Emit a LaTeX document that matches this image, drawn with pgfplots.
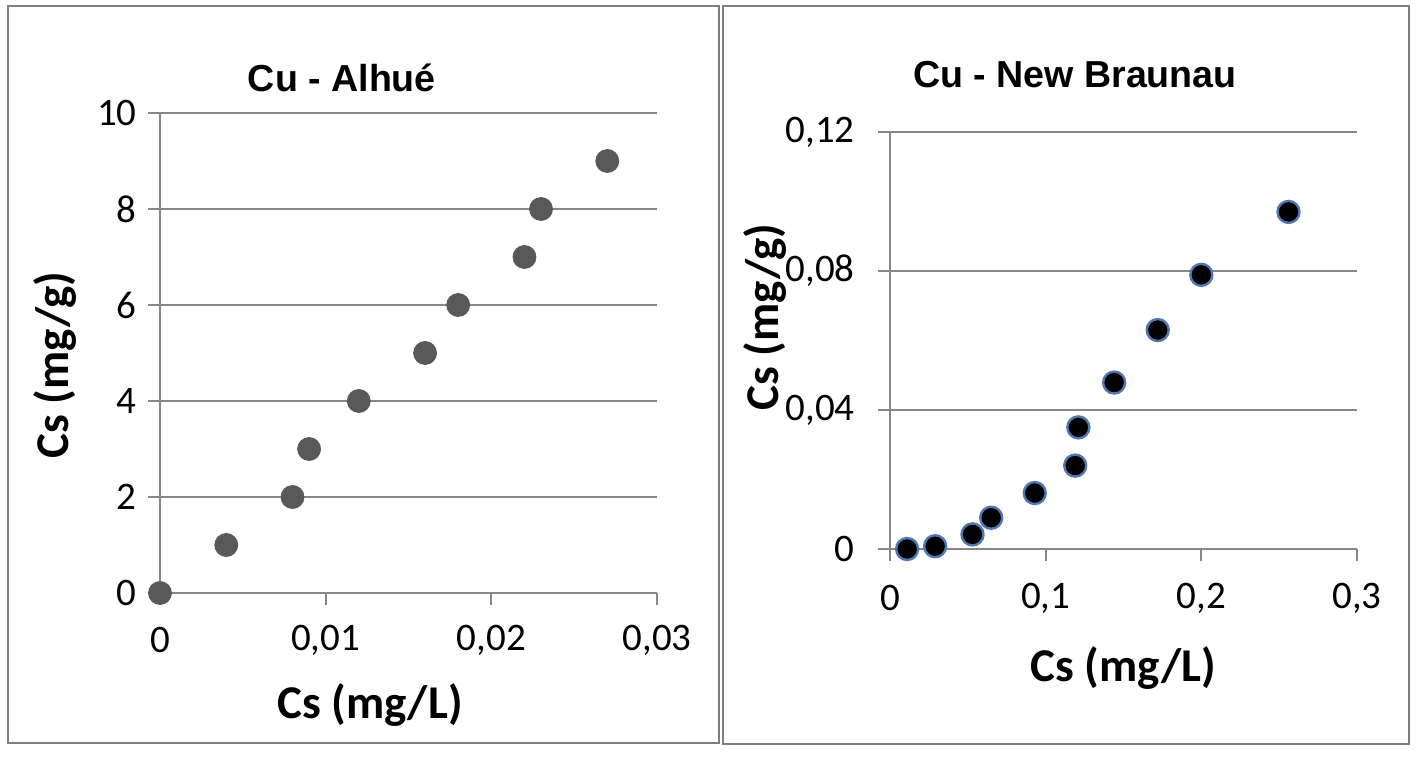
\documentclass[border=0pt]{standalone}
\usepackage{fontspec}
\setmainfont{Carlito}
\newfontfamily\titlefont{Liberation Sans}
\usepackage{pgfplots}
\pgfplotsset{compat=1.18}
\definecolor{gridgray}{HTML}{878787}
\definecolor{framegray}{HTML}{7F7F7F}
\definecolor{markgray}{HTML}{595959}
\definecolor{markblue}{HTML}{4F78B5}
\pgfplotsset{
  excelstyle/.style={
    scale only axis, clip=false,
    scaled x ticks=false, scaled y ticks=false,
    axis lines=left,
    axis line style={draw=gridgray, line width=1pt, -},
    ymajorgrids,
    grid style={draw=gridgray, line width=1pt},
    tick align=outside,
    major tick length=6pt,
    major tick style={draw=gridgray, line width=1pt},
    tick label style={font=\fontsize{19.5}{21}\selectfont, inner sep=0pt},
    xticklabel style={anchor=center},
    title style={font=\titlefont\bfseries\fontsize{18.8}{20}\selectfont, anchor=center},
    label style={font=\bfseries\fontsize{23.5}{26}\selectfont, anchor=center},
  }
}
\begin{document}
\begin{tikzpicture}
\path[use as bounding box] (0,0) rectangle (710pt,378pt);
\draw[framegray, line width=1.2pt] (4pt,6.5pt) rectangle (359.5pt,375pt);
\draw[framegray, line width=1.2pt] (361.5pt,6pt) rectangle (704.5pt,375pt);

\begin{axis}[excelstyle,
  at={(80pt,81.5pt)}, anchor=south west,
  width=248.5pt, height=240pt,
  xmin=0, xmax=0.03, ymin=0, ymax=10,
  xtick={0,0.01,0.02,0.03},
  xticklabels={0,{0,01},{0,02},{0,03}},
  ytick={0,2,4,6,8,10},
  yticklabels={0,2,4,6,8,10},
  xticklabel style={yshift=-17.5pt},
  yticklabel style={anchor=east, xshift=-5.5pt},
  title={Cu - Alhué},
  title style={at={(axis description cs:0.366,1.048)}},
  xlabel={Cs (mg/L)},
  xlabel style={at={(axis description cs:0.4225,-0.233)}},
  ylabel={Cs (mg/g)},
  ylabel style={at={(axis description cs:-0.211,0.475)}},
]
\addplot[only marks, mark=*, mark size=5.75pt, mark options={fill=markgray, draw=markgray}]
coordinates {
(0,0) (0.004,1) (0.008,2) (0.009,3) (0.012,4) (0.016,5) (0.018,6) (0.022,7) (0.023,8) (0.027,9)
};
\end{axis}

\begin{axis}[excelstyle,
  at={(445pt,103.5pt)}, anchor=south west,
  width=233.5pt, height=208.5pt,
  xmin=0, xmax=0.3, ymin=0, ymax=0.12,
  xtick={0,0.1,0.2,0.3},
  xticklabels={0,{0,1},{0,2},{0,3}},
  ytick={0,0.04,0.08,0.12},
  yticklabels={0,{0,04},{0,08},{0,12}},
  xticklabel style={yshift=-18.5pt},
  yticklabel style={anchor=east, xshift=-11.5pt},
  title={Cu - New Braunau},
  title style={at={(axis description cs:0.396,1.110)}},
  xlabel={Cs (mg/L)},
  xlabel style={at={(axis description cs:0.499,-0.285)}},
  ylabel={Cs (mg/g)},
  ylabel style={at={(axis description cs:-0.268,0.556)}},
]
\addplot[only marks, mark=*, mark size=5.5pt, mark options={fill=black, draw=markblue, line width=1.2pt}]
coordinates {
(0.011,0) (0.029,0.0008) (0.053,0.0042) (0.065,0.009) (0.093,0.0161) (0.119,0.024) (0.121,0.035) (0.144,0.0479) (0.172,0.063) (0.200,0.0789) (0.256,0.097)
};
\end{axis}
\end{tikzpicture}
\end{document}
